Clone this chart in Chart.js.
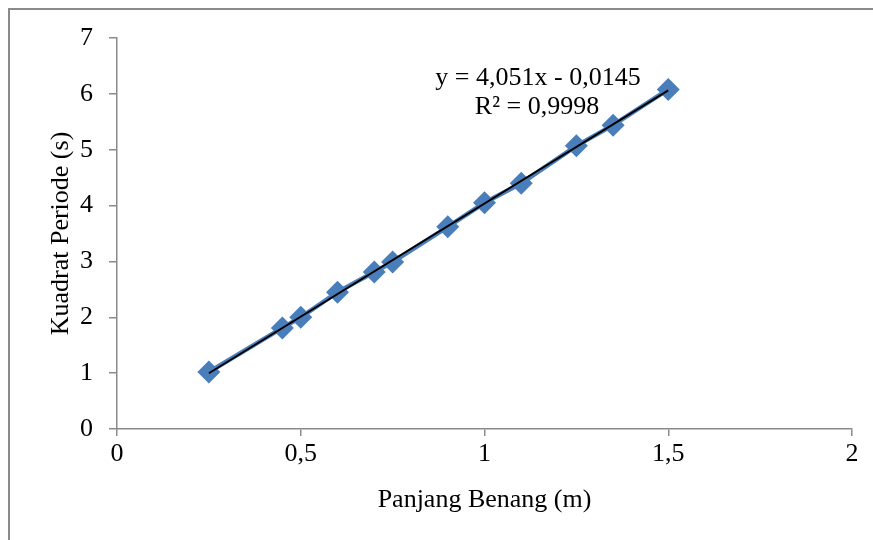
<!DOCTYPE html>
<html>
<head>
<meta charset="utf-8">
<script src="https://cdn.jsdelivr.net/npm/chart.js@4"></script>
<style>
  html, body { margin: 0; padding: 0; background: #fff; overflow: hidden; }
  #wrap { position: relative; width: 873px; height: 540px; }
  #frame { position: absolute; left: 8px; top: 8px; width: 900px; height: 600px;
           border-left: 2px solid #8a8a8a; border-top: 2px solid #8a8a8a; }
</style>
</head>
<body>
<div id="wrap">
  <div id="frame"></div>
  <canvas id="chart"></canvas>
</div>
<script>
// Panjang benang (m) dan kuadrat periode (s)
const panjang = [0.25, 0.45, 0.5, 0.6, 0.7, 0.75, 0.9, 1.0, 1.1, 1.25, 1.35, 1.5];
const kuadratPeriode = [1.02, 1.81, 2.00, 2.45, 2.81, 2.99, 3.62, 4.05, 4.40, 5.07, 5.44, 6.08];

// garis tren linear (y = 4,051x - 0,0145)
const trendX = [0.25, 1.5];
const trendY = [0.998, 6.062];

const persamaan = ['y = 4,051x - 0,0145', 'R\u00b2 = 0,9998'];

const biru = '#4a7ebb';
const abu = '#8a8a8a';
const huruf = { family: '"Liberation Serif", "Times New Roman", serif', size: 26 };

const labelTren = {
  id: 'labelTren',
  afterDatasetsDraw(chart) {
    const { ctx, chartArea } = chart;
    ctx.save();
    ctx.font = '26px ' + huruf.family;
    ctx.fillStyle = '#000';
    ctx.textAlign = 'center';
    ctx.textBaseline = 'middle';
    ctx.fillText(persamaan[0], chartArea.left + 421, chartArea.top + 40);
    ctx.fillText(persamaan[1], chartArea.left + 420, chartArea.top + 69);
    ctx.restore();
  }
};

new Chart(document.getElementById('chart'), {
  type: 'scatter',
  data: {
    datasets: [
      {
        label: 'Tren',
        data: trendX.map((x, i) => ({ x: x, y: trendY[i] })),
        showLine: true,
        borderColor: '#000',
        borderWidth: 2,
        pointRadius: 0,
        order: 0
      },
      {
        label: 'Data',
        data: panjang.map((x, i) => ({ x: x, y: kuadratPeriode[i] })),
        showLine: true,
        borderColor: biru,
        borderWidth: 4.5,
        backgroundColor: biru,
        pointStyle: 'rectRot',
        pointRadius: 11.5,
        pointBorderWidth: 0,
        order: 1
      }
    ]
  },
  options: {
    responsive: true,
    maintainAspectRatio: false,
    animation: false,
    layout: { padding: { top: 38, right: 21, left: 0, bottom: 0 } },
    plugins: { legend: { display: false }, tooltip: { enabled: false } },
    scales: {
      x: {
        type: 'linear',
        min: 0,
        max: 2,
        afterFit: s => { s.height = 111; },
        ticks: {
          stepSize: 0.5,
          color: '#000',
          font: huruf,
          padding: 3,
          maxRotation: 0,
          callback: v => String(v).replace('.', ',')
        },
        grid: { drawOnChartArea: false, drawTicks: true, tickLength: 7, color: abu, lineWidth: 1.5 },
        border: { color: abu, width: 1.5 },
        title: {
          display: true,
          text: 'Panjang Benang (m)',
          color: '#000',
          font: huruf,
          padding: { top: 0, bottom: 24 }
        }
      },
      y: {
        min: 0,
        max: 7,
        afterFit: s => { s.width = 117; },
        ticks: {
          stepSize: 1,
          color: '#000',
          font: huruf,
          padding: 16
        },
        grid: { drawOnChartArea: false, drawTicks: true, tickLength: 8, color: abu, lineWidth: 1.5 },
        border: { color: abu, width: 1.5 },
        title: {
          display: true,
          text: 'Kuadrat Periode (s)',
          color: '#000',
          font: huruf,
          padding: { top: 46, bottom: 0 }
        }
      }
    }
  },
  plugins: [labelTren]
});
</script>
</body>
</html>
